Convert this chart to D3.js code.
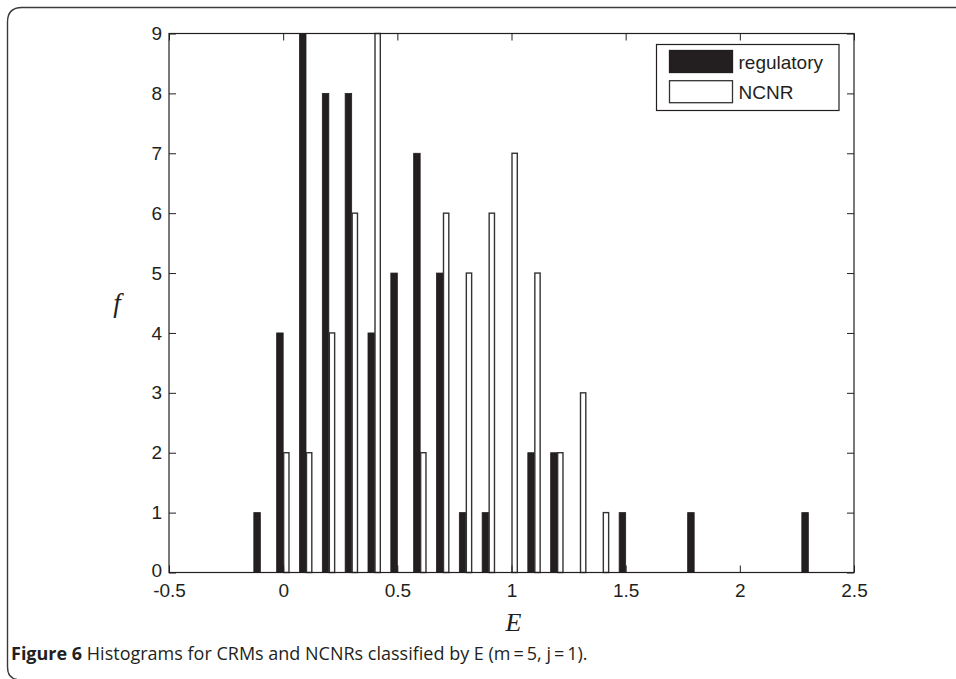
<!DOCTYPE html>
<html>
<head>
<meta charset="utf-8">
<script src="https://cdn.jsdelivr.net/npm/d3@7"></script>
<style>
  html, body { margin: 0; padding: 0; background: #fff; }
  svg { display: block; }
</style>
</head>
<body>
<svg id="chart" width="956" height="679"></svg>
<script>
// ---- data ----
const binCenters = [-0.1, 0, 0.1, 0.2, 0.3, 0.4, 0.5, 0.6, 0.7, 0.8, 0.9, 1.0, 1.1, 1.2, 1.3, 1.4, 1.5, 1.6, 1.7, 1.8, 1.9, 2.0, 2.1, 2.2, 2.3];
const regulatory = [1, 4, 9, 8, 8, 4, 5, 7, 5, 1, 1, 0, 2, 2, 0, 0, 1, 0, 0, 1, 0, 0, 0, 0, 1];
const ncnr       = [0, 2, 2, 4, 6, 9, 0, 2, 6, 5, 6, 7, 5, 2, 3, 1, 0, 0, 0, 0, 0, 0, 0, 0, 0];
const seriesNames = ["regulatory", "NCNR"];
const xTicks = [-0.5, 0, 0.5, 1, 1.5, 2, 2.5];
const yTicks = [0, 1, 2, 3, 4, 5, 6, 7, 8, 9];
const xLabel = "E";
const yLabel = "f";
const captionBold = "Figure 6";
const captionRest = " Histograms for CRMs and NCNRs classified by E (m\u2009=\u20095, j\u2009=\u20091).";

// ---- layout ----
const svg = d3.select("#chart");
const ink = "#231f20";
const plot = { left: 169, top: 33.5, right: 854, bottom: 572.5 };

// frame
svg.append("path")
  .attr("d", "M990,7.5 L22,7.5 Q7.5,7.5 7.5,22 L7.5,667 Q7.5,678 17,679.5")
  .attr("fill", "none").attr("stroke", "#3a3a3a").attr("stroke-width", 1.4);

const x = d3.scaleLinear().domain([-0.5, 2.5]).range([plot.left, plot.right]);
const y = d3.scaleLinear().domain([0, 9]).range([plot.bottom, plot.top]);

const step = x(0.1) - x(0);
const barW = step * 0.285;

const g = svg.append("g");

// bars
g.selectAll("rect.reg").data(binCenters.map((c, i) => ({ c, v: regulatory[i] })).filter(d => d.v > 0))
  .enter().append("rect")
  .attr("x", d => x(d.c) - barW)
  .attr("y", d => y(d.v))
  .attr("width", barW)
  .attr("height", d => y(0) - y(d.v))
  .attr("fill", ink).attr("stroke", ink).attr("stroke-width", 0.8);

g.selectAll("rect.ncnr").data(binCenters.map((c, i) => ({ c, v: ncnr[i] })).filter(d => d.v > 0))
  .enter().append("rect")
  .attr("x", d => x(d.c) + 0.5)
  .attr("y", d => y(d.v))
  .attr("width", barW - 1.2)
  .attr("height", d => y(0) - y(d.v))
  .attr("fill", "#fff").attr("stroke", "#333").attr("stroke-width", 1.4);

// axes
const tickLen = 7;
const fontAxis = "'Liberation Sans', Arial, sans-serif";

function styleAxis(sel) {
  sel.select(".domain").remove();
  sel.selectAll(".tick line").attr("stroke", ink).attr("stroke-width", 1);
  sel.selectAll(".tick text").attr("fill", ink)
    .style("font-family", fontAxis).style("font-size", "19px");
}

svg.append("g").attr("transform", `translate(0,${plot.bottom})`)
  .call(d3.axisBottom(x).tickValues(xTicks).tickSizeInner(-tickLen).tickSizeOuter(0).tickPadding(11)
    .tickFormat(d => String(d)))
  .call(styleAxis);

svg.append("g").attr("transform", `translate(0,${plot.top})`)
  .call(d3.axisTop(x).tickValues(xTicks).tickSizeInner(-tickLen).tickSizeOuter(0).tickFormat(""))
  .call(styleAxis);

svg.append("g").attr("transform", `translate(${plot.left},0)`)
  .call(d3.axisLeft(y).tickValues(yTicks).tickSizeInner(-tickLen).tickSizeOuter(0).tickPadding(7))
  .call(styleAxis)
  .call(s => s.selectAll(".tick text").attr("dy", d => d === 0 ? "0.2em" : "0.32em"));

svg.append("g").attr("transform", `translate(${plot.right},0)`)
  .call(d3.axisRight(y).tickValues(yTicks).tickSizeInner(-tickLen).tickSizeOuter(0).tickFormat(""))
  .call(styleAxis);

// box
svg.append("rect")
  .attr("x", plot.left).attr("y", plot.top)
  .attr("width", plot.right - plot.left).attr("height", plot.bottom - plot.top)
  .attr("fill", "none").attr("stroke", ink).attr("stroke-width", 1.2);

// axis labels
svg.append("text").attr("x", (plot.left + plot.right) / 2 + 2).attr("y", 631)
  .attr("text-anchor", "middle")
  .style("font-family", "'Liberation Serif', 'Times New Roman', serif")
  .style("font-style", "italic").style("font-size", "26px").attr("fill", ink)
  .text(xLabel);

svg.append("text").attr("x", 117).attr("y", 312)
  .attr("text-anchor", "middle")
  .style("font-family", "'Liberation Serif', 'Times New Roman', serif")
  .style("font-style", "italic").style("font-size", "27px").attr("fill", ink)
  .text(yLabel);

// legend
const lg = svg.append("g");
lg.append("rect").attr("x", 656.5).attr("y", 44.5).attr("width", 182.5).attr("height", 66)
  .attr("fill", "#fff").attr("stroke", ink).attr("stroke-width", 1.2);
const legendItems = [
  { name: seriesNames[0], fill: ink, stroke: ink },
  { name: seriesNames[1], fill: "#fff", stroke: "#333" }
];
legendItems.forEach((d, i) => {
  const yy = 50.5 + i * 30.2;
  lg.append("rect").attr("x", 669.5).attr("y", yy).attr("width", 63).attr("height", 22)
    .attr("fill", d.fill).attr("stroke", d.stroke).attr("stroke-width", 1.3);
  lg.append("text").attr("x", 738.5).attr("y", yy + 18.5)
    .style("font-family", fontAxis).style("font-size", "19px")
    .attr("fill", ink).text(d.name);
});

// caption
const cap = svg.append("text").attr("x", 11).attr("y", 660)
  .style("font-family", "'Open Sans', 'Noto Sans', sans-serif").style("font-size", "18px")
  .attr("fill", ink);
cap.append("tspan").style("font-weight", "bold").text(captionBold);
cap.append("tspan").text(captionRest);
</script>
</body>
</html>
